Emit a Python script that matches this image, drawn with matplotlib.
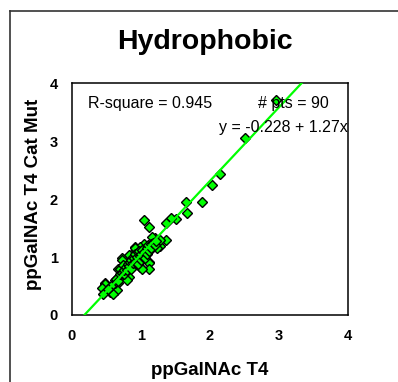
import matplotlib
matplotlib.use("Agg")
import matplotlib.pyplot as plt
from matplotlib.lines import Line2D
import numpy as np

plt.rcParams['font.family'] = ['Liberation Sans', 'DejaVu Sans']

# values (ppGalNAc T4 vs ppGalNAc T4 Cat Mut)
x_vals = [2.96, 2.50, 2.15, 2.03, 1.89, 1.65, 1.66, 1.51, 1.43, 1.36, 1.05, 1.11,
          1.20, 1.36, 1.27, 1.16, 1.28, 1.23, 0.91, 1.05, 0.99, 0.91, 1.01, 0.86,
          0.82, 0.72, 0.72, 0.96, 1.11, 1.11, 0.99, 1.11, 1.01, 0.67, 0.69, 0.79,
          0.74, 0.82, 0.70, 0.79, 0.62, 0.48, 0.67, 0.48, 0.43, 0.55, 0.65, 0.45,
          0.60,
          0.62, 0.64, 0.66, 0.70, 0.72, 0.75, 0.76, 0.78, 0.80, 0.81, 0.83, 0.84,
          0.85, 0.86, 0.88, 0.88, 0.90, 0.92, 0.92, 0.94, 0.95, 0.96, 0.97, 0.98,
          1.00, 1.00, 1.02, 1.03, 1.05, 1.06, 1.08, 1.08, 1.10, 1.12, 1.14, 1.15,
          1.18, 1.20, 1.22, 0.57, 0.52]
y_vals = [3.71, 3.06, 2.43, 2.25, 1.94, 1.95, 1.76, 1.66, 1.67, 1.58, 1.64, 1.51,
          1.32, 1.29, 1.19, 1.34, 1.29, 1.15, 1.18, 1.23, 1.18, 1.15, 1.09, 1.03,
          1.03, 0.98, 0.95, 0.95, 0.92, 0.89, 0.83, 0.80, 0.80, 0.80, 0.79, 0.75,
          0.86, 0.66, 0.66, 0.60, 0.60, 0.55, 0.55, 0.53, 0.46, 0.40, 0.43, 0.37,
          0.36,
          0.55, 0.62, 0.58, 0.70, 0.72, 0.70, 0.78, 0.82, 0.78, 0.88, 0.85, 0.92,
          0.80, 0.95, 0.90, 1.00, 0.98, 0.92, 1.05, 1.00, 1.08, 0.88, 1.10, 1.02,
          1.05, 0.95, 1.12, 1.00, 1.08, 0.98, 1.15, 1.05, 1.20, 1.10, 1.22, 1.15,
          1.25, 1.20, 1.28, 0.50, 0.45]

intercept = -0.228
slope = 1.27
r_square = 0.945
ticks = [0, 1, 2, 3, 4]

fig = plt.figure(figsize=(3.98, 3.82), dpi=100)
ax = fig.add_axes([0.1809, 0.1754, 0.6935, 0.6073])

# fit line from y=0 to y=4
x0 = -intercept / slope
x1 = (4 - intercept) / slope
lx = np.array([x0, x1])
ax.plot(lx, intercept + slope * lx, color='#00ff00', lw=1.6, zorder=3)

ax.plot(x_vals, y_vals, linestyle='none', marker='D', markersize=5,
        markerfacecolor='#00ff00', markeredgecolor='black', markeredgewidth=1.0, zorder=2)

ax.set_xlim(0, 4)
ax.set_ylim(0, 4)
ax.set_xticks(ticks)
ax.set_yticks(ticks)
ax.tick_params(length=0, labelsize=10.5)
ax.tick_params(axis='x', pad=10)
ax.tick_params(axis='y', pad=10)
for lab in ax.get_xticklabels() + ax.get_yticklabels():
    lab.set_fontweight('bold')
for s in ax.spines.values():
    s.set_linewidth(1.1)

ax.text(0.23, 3.64, f"R-square = {r_square}", fontsize=11.5, va='center', ha='left')
ax.text(2.70, 3.64, f"# pts = {len(x_vals)}", fontsize=11.5, va='center', ha='left')
ax.text(4.0, 3.24, f"y = {intercept} + {slope}x", fontsize=11.5, va='center', ha='right')

fig.text(0.515, 0.89, "Hydrophobic", fontsize=20.5, fontweight='bold', ha='center', va='center')
fig.text(0.528, 0.031, "ppGalNAc T4", fontsize=13.5, fontweight='bold', ha='center', va='center')
fig.text(0.083, 0.49, "ppGalNAc T4 Cat Mut", fontsize=13.5, fontweight='bold',
         ha='center', va='center', rotation=90)

# outer frame (left and top edges visible)
fig.add_artist(Line2D([0.025, 0.025], [0, 0.971], color='#333333', lw=1.2, transform=fig.transFigure))
fig.add_artist(Line2D([0.025, 1.0], [0.971, 0.971], color='#333333', lw=1.2, transform=fig.transFigure))

fig.savefig("out.png", dpi=100)
